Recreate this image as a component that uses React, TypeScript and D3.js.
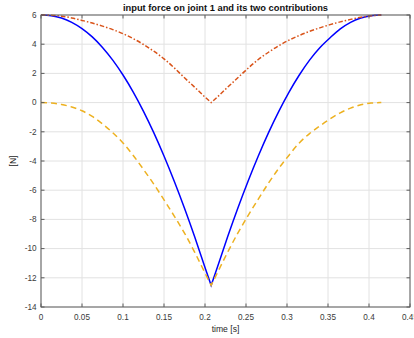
import { useRef, useEffect } from 'react'
import * as d3 from 'd3'

// time samples [s] and the three force curves [N]
const timeS = [
  0, 0.0125, 0.025, 0.0375, 0.05, 0.0625, 0.075, 0.0875, 0.1, 0.1125, 0.125, 0.1375,
  0.15, 0.1625, 0.175, 0.1875, 0.2, 0.2075, 0.215, 0.2275, 0.24, 0.2525, 0.265, 0.2775,
  0.29, 0.3025, 0.315, 0.3275, 0.34, 0.3525, 0.365, 0.3775, 0.39, 0.4025, 0.415,
]
const totalForce = [
  6.0, 5.95, 5.79, 5.5, 5.07, 4.5, 3.78, 2.91, 1.89, 0.72, -0.6, -2.06,
  -3.66, -5.39, -7.24, -9.21, -11.29, -12.52, -11.29, -9.21, -7.24, -5.39, -3.66, -2.06,
  -0.6, 0.72, 1.89, 2.91, 3.76, 4.44, 5.05, 5.5, 5.79, 5.95, 6.0,
]
const firstPart = [
  6.0, 5.98, 5.92, 5.8, 5.63, 5.45, 5.24, 5.0, 4.72, 4.38, 3.98, 3.52,
  3.0, 2.38, 1.7, 1.05, 0.38, 0.0, 0.38, 1.05, 1.7, 2.35, 2.95, 3.45,
  3.9, 4.28, 4.6, 4.88, 5.12, 5.34, 5.53, 5.7, 5.84, 5.94, 6.0,
]
const secondPart = [
  0, -0.03, -0.13, -0.3, -0.56, -0.95, -1.46, -2.06, -2.76, -3.62, -4.58, -5.58,
  -6.66, -7.77, -8.94, -10.26, -11.67, -12.52, -11.67, -10.26, -8.94, -7.74, -6.61, -5.51,
  -4.5, -3.6, -2.76, -2.12, -1.6, -1.12, -0.7, -0.38, -0.15, -0.03, 0,
]
const xTicks = [0, 0.05, 0.1, 0.15, 0.2, 0.25, 0.3, 0.35, 0.4, 0.45]
const yTicks = [-14, -12, -10, -8, -6, -4, -2, 0, 2, 4, 6]

const W = 414
const H = 338
const margin = { left: 41, right: 4, top: 15, bottom: 31 }
const FONT = '"Liberation Sans", Arial, Helvetica, sans-serif'

export default function App() {
  const svgRef = useRef<SVGSVGElement>(null)

  useEffect(() => {
    const svg = d3.select(svgRef.current)
    svg.selectAll('*').remove()

    const x = d3.scaleLinear().domain([0, 0.45]).range([margin.left, W - margin.right])
    const y = d3.scaleLinear().domain([-14, 6]).range([H - margin.bottom, margin.top])
    const [x0, x1] = x.range()
    const [y0, y1] = y.range()

    svg.append('rect').attr('x', x0).attr('y', y1).attr('width', x1 - x0).attr('height', y0 - y1).attr('fill', '#fff')

    // grid
    const grid = svg.append('g').attr('stroke', '#e2e2e2').attr('stroke-width', 1)
    xTicks.forEach(t => {
      grid.append('line').attr('x1', x(t)).attr('x2', x(t)).attr('y1', y0).attr('y2', y1)
    })
    yTicks.forEach(t => {
      grid.append('line').attr('x1', x0).attr('x2', x1).attr('y1', y(t)).attr('y2', y(t))
    })

    // curves: split at the vertex so the V stays sharp
    const pts = (vals: number[]) => timeS.map((t, i) => [t, vals[i]] as [number, number])
    const line = d3.line<[number, number]>().x(d => x(d[0])).y(d => y(d[1])).curve(d3.curveMonotoneX)
    const vIdx = d3.minIndex(totalForce)
    const pathFor = (vals: number[]) => {
      const p = pts(vals)
      const a = line(p.slice(0, vIdx + 1)) || ''
      const b = line(p.slice(vIdx)) || ''
      return a + 'L' + b.slice(1)
    }

    const series = [
      { vals: totalForce, color: '#0000ff', dash: null },
      { vals: firstPart, color: '#d95319', dash: '4.5,2,1.5,2' },
      { vals: secondPart, color: '#edb120', dash: '6,4' },
    ]
    series.forEach(s => {
      svg.append('path')
        .attr('d', pathFor(s.vals))
        .attr('fill', 'none')
        .attr('stroke', s.color)
        .attr('stroke-width', 1.5)
        .attr('stroke-dasharray', s.dash)
    })

    // box + ticks
    const ax = svg.append('g').attr('stroke', '#5c5c5c').attr('stroke-width', 1).attr('fill', 'none')
    ax.append('rect').attr('x', x0).attr('y', y1).attr('width', x1 - x0).attr('height', y0 - y1)
    const tl = 3.5
    xTicks.forEach(t => {
      ax.append('line').attr('x1', x(t)).attr('x2', x(t)).attr('y1', y0).attr('y2', y0 - tl)
      ax.append('line').attr('x1', x(t)).attr('x2', x(t)).attr('y1', y1).attr('y2', y1 + tl)
    })
    yTicks.forEach(t => {
      ax.append('line').attr('x1', x0).attr('x2', x0 + tl).attr('y1', y(t)).attr('y2', y(t))
      ax.append('line').attr('x1', x1).attr('x2', x1 - tl).attr('y1', y(t)).attr('y2', y(t))
    })

    // tick labels (the last x label runs off the right edge, as in the original)
    const lbl = svg.append('g').attr('font-family', FONT).attr('font-size', 8.2).attr('fill', '#3a3a3a')
    xTicks.forEach(t => {
      lbl.append('text').attr('x', x(t)).attr('y', y0 + 12.5).attr('text-anchor', 'middle').text(d3.format('~g')(t))
    })
    yTicks.forEach(t => {
      lbl.append('text').attr('x', x0 - 4.5).attr('y', y(t)).attr('dy', '0.35em').attr('text-anchor', 'end').text(String(t))
    })

    // titles
    svg.append('text')
      .attr('x', (x0 + x1) / 2).attr('y', 11)
      .attr('text-anchor', 'middle').attr('font-family', FONT).attr('font-size', 9.3).attr('font-weight', 'bold')
      .attr('fill', '#111')
      .text('input force on joint 1 and its two contributions')
    svg.append('text')
      .attr('x', (x0 + x1) / 2).attr('y', H - 6)
      .attr('text-anchor', 'middle').attr('font-family', FONT).attr('font-size', 8.6).attr('fill', '#262626')
      .text('time [s]')
    svg.append('text')
      .attr('transform', `translate(16,${(y0 + y1) / 2}) rotate(-90)`)
      .attr('text-anchor', 'middle').attr('font-family', FONT).attr('font-size', 8.6).attr('fill', '#262626')
      .text('[N]')
  }, [])

  return <svg ref={svgRef} width={W} height={H} style={{ position: 'absolute', left: 0, top: 0, background: '#fff' }} />
}
